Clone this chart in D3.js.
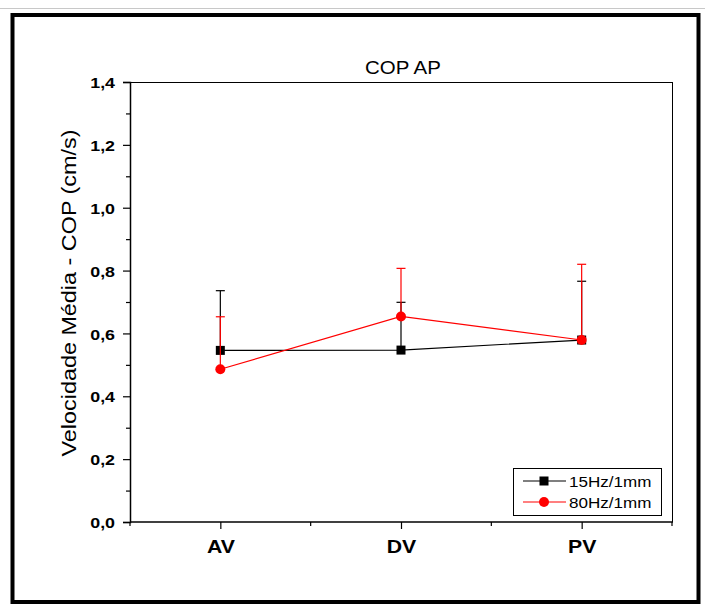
<!DOCTYPE html>
<html>
<head>
<meta charset="utf-8">
<script src="https://cdn.jsdelivr.net/npm/d3@7/dist/d3.min.js"></script>
<style>
  html, body { margin: 0; padding: 0; background: #fff; }
  svg text { font-family: Arial, "Liberation Sans", sans-serif; }
</style>
</head>
<body>
<svg id="chart" width="705" height="606"></svg>
<script>
// Mean COP velocity (AP) per condition, with upper standard deviation
const categories = ["AV", "DV", "PV"];
const series15Mean = [0.546, 0.547, 0.579];
const series15Sd   = [0.190, 0.152, 0.187];
const series80Mean = [0.486, 0.654, 0.579];
const series80Sd   = [0.167, 0.153, 0.241];
const yTicks = [0, 0.2, 0.4, 0.6, 0.8, 1.0, 1.2, 1.4];
const yMinorTicks = [0.1, 0.3, 0.5, 0.7, 0.9, 1.1, 1.3];
const seriesNames = ["15Hz/1mm", "80Hz/1mm"];

const svg = d3.select("#chart");
const W = 705, H = 606;
const plot = { left: 130, right: 672, top: 82, bottom: 522 };
const WIDE = 1.15; // text in this figure is drawn slightly widened

svg.append("rect").attr("width", W).attr("height", H).attr("fill", "#fff");

// outer frame
svg.append("line").attr("x1", 0).attr("x2", W).attr("y1", 8.5).attr("y2", 8.5)
  .attr("stroke", "#c8c8c8").attr("stroke-width", 1);
svg.append("rect").attr("x", 12.5).attr("y", 15).attr("width", 686).attr("height", 587)
  .attr("fill", "none").attr("stroke", "#000").attr("stroke-width", 4);

const x = d3.scalePoint().domain(categories).range([plot.left, plot.right]).padding(0.5);
const y = d3.scaleLinear().domain([0, 1.4]).range([plot.bottom, plot.top]);
const fmt = v => d3.format(".1f")(v).replace(".", ",");

// plot box: top and right borders
svg.append("line").attr("x1", plot.left).attr("x2", plot.right).attr("y1", plot.top + 0.5).attr("y2", plot.top + 0.5)
  .attr("stroke", "#000").attr("stroke-width", 1);
svg.append("line").attr("x1", plot.right + 0.5).attr("x2", plot.right + 0.5).attr("y1", plot.top).attr("y2", plot.bottom)
  .attr("stroke", "#000").attr("stroke-width", 1);

// y axis
const yAxis = svg.append("g").attr("transform", `translate(${plot.left},0)`)
  .call(d3.axisLeft(y).tickValues(yTicks).tickFormat(fmt).tickSize(7));
yAxis.select(".domain").attr("stroke-width", 1.5);
yAxis.selectAll(".tick line").attr("stroke-width", 1.2);
yAxis.selectAll(".tick text")
  .attr("x", 0).attr("dy", "0.36em")
  .attr("transform", `translate(-15,0) scale(${WIDE},1)`)
  .attr("font-size", 15.5).attr("font-weight", "bold").attr("fill", "#000");
svg.append("g").attr("transform", `translate(${plot.left},0)`)
  .call(d3.axisLeft(y).tickValues(yMinorTicks).tickFormat("").tickSize(4))
  .call(g => g.select(".domain").remove())
  .selectAll(".tick line").attr("stroke-width", 1.2);

// x axis
const xAxis = svg.append("g").attr("transform", `translate(0,${plot.bottom})`)
  .call(d3.axisBottom(x).tickSize(7));
xAxis.select(".domain").attr("d", `M${plot.left},0H${plot.right + 1}`).attr("stroke-width", 1.5);
xAxis.selectAll(".tick line").attr("stroke-width", 1.2);
xAxis.selectAll(".tick text")
  .attr("y", 0).attr("dy", 0)
  .attr("transform", `translate(0,31) scale(1.18,1)`)
  .attr("font-size", 18).attr("font-weight", "bold").attr("fill", "#000");
const step = x.step();
const minorX = d3.range(categories.length + 1).map(i => plot.left + i * step);
svg.append("g").selectAll("line").data(minorX).join("line")
  .attr("x1", d => d).attr("x2", d => d)
  .attr("y1", plot.bottom).attr("y2", plot.bottom + 4)
  .attr("stroke", "#000").attr("stroke-width", 1.2);

// titles
svg.append("text")
  .attr("transform", `translate(${(plot.left + plot.right) / 2 + 2},74) scale(1.1,1)`)
  .attr("text-anchor", "middle").attr("font-size", 18.6).attr("fill", "#000").text("COP AP");
svg.append("text")
  .attr("transform", `translate(76,${(plot.top + plot.bottom) / 2 - 9}) rotate(-90) scale(1.2,1)`)
  .attr("text-anchor", "middle").attr("font-size", 19.5).attr("fill", "#000")
  .text("Velocidade Média - COP (cm/s)");

function drawSeries(means, sds, color, marker) {
  const g = svg.append("g");
  const pts = categories.map((c, i) => ({ c, m: means[i], sd: sds[i] }));
  g.append("path").datum(pts)
    .attr("d", d3.line().x(d => x(d.c)).y(d => y(d.m)))
    .attr("fill", "none").attr("stroke", color).attr("stroke-width", 1.2);
  // upper error bars
  g.selectAll(".eb").data(pts).join("line")
    .attr("x1", d => x(d.c)).attr("x2", d => x(d.c))
    .attr("y1", d => y(d.m)).attr("y2", d => y(d.m + d.sd))
    .attr("stroke", color).attr("stroke-width", 1.2);
  g.selectAll(".cap").data(pts).join("line")
    .attr("x1", d => x(d.c) - 4.5).attr("x2", d => x(d.c) + 4.5)
    .attr("y1", d => y(d.m + d.sd)).attr("y2", d => y(d.m + d.sd))
    .attr("stroke", color).attr("stroke-width", 1.2);
  if (marker === "square") {
    g.selectAll(".mk").data(pts).join("rect")
      .attr("x", d => x(d.c) - 4.5).attr("y", d => y(d.m) - 4.5)
      .attr("width", 9).attr("height", 9).attr("fill", color);
  } else {
    g.selectAll(".mk").data(pts).join("circle")
      .attr("cx", d => x(d.c)).attr("cy", d => y(d.m)).attr("r", 5).attr("fill", color);
  }
}
drawSeries(series15Mean, series15Sd, "#000", "square");
drawSeries(series80Mean, series80Sd, "#ff0000", "circle");

// legend
const lg = svg.append("g");
lg.append("rect").attr("x", 513.5).attr("y", 468.5).attr("width", 148).attr("height", 47)
  .attr("fill", "#fff").attr("stroke", "#000").attr("stroke-width", 1);
const legendItems = [
  { name: seriesNames[0], color: "#000", marker: "square" },
  { name: seriesNames[1], color: "#ff0000", marker: "circle" }
];
legendItems.forEach((d, i) => {
  const cy = 481 + i * 21;
  lg.append("line").attr("x1", 523).attr("x2", 566).attr("y1", cy).attr("y2", cy)
    .attr("stroke", d.color).attr("stroke-width", 1.2);
  if (d.marker === "square") {
    lg.append("rect").attr("x", 544 - 4.5).attr("y", cy - 4.5).attr("width", 9).attr("height", 9).attr("fill", d.color);
  } else {
    lg.append("circle").attr("cx", 544).attr("cy", cy).attr("r", 5).attr("fill", d.color);
  }
  lg.append("text").attr("transform", `translate(569,${cy + 6}) scale(1.1,1)`)
    .attr("font-size", 15.5).attr("fill", "#000").text(d.name);
});
</script>
</body>
</html>
